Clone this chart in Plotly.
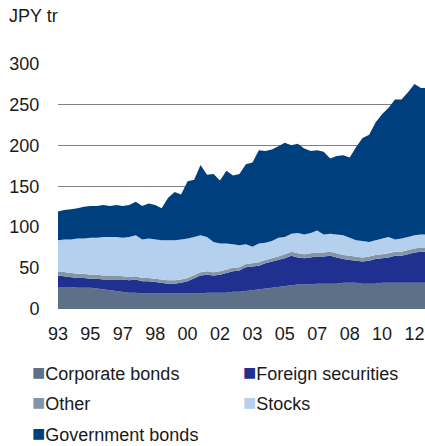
import plotly.graph_objects as go
import pandas as pd

# Japanese banks' securities holdings, JPY trillion (every 4 months)
dates = pd.date_range("1993-11-01", periods=58, freq="4MS")

corporate_bonds = [27, 27, 27, 26, 26, 26, 25, 24, 23, 22, 21, 20, 20, 19, 19, 19, 19, 19, 19, 19,
                   19, 19, 19, 20, 20, 20, 20, 21, 21, 22, 23, 24, 25, 26, 27, 28, 29, 30, 30, 30,
                   31, 31, 31, 31, 32, 32, 32, 31, 31, 31, 32, 32, 32, 32, 32, 32, 32, 32]
foreign_securities = [14, 13, 12, 12, 12, 11, 12, 12, 13, 14, 15, 15, 16, 15, 15, 14, 13, 12, 12, 13,
                      15, 19, 22, 22, 21, 22, 24, 25, 26, 29, 29, 29, 31, 32, 33, 34, 36, 33, 32, 33,
                      33, 33, 34, 32, 29, 28, 27, 27, 28, 30, 30, 31, 33, 33, 35, 37, 38, 38]
other = [5, 5, 5, 5, 5, 5, 5, 5, 5, 5, 4, 4, 4, 4, 4, 4, 4, 4, 4, 4,
         4, 4, 4, 4, 4, 4, 4, 4, 4, 4, 4, 4, 4, 4, 4, 5, 5, 5, 5, 5,
         5, 5, 5, 5, 5, 5, 5, 5, 5, 5, 5, 5, 5, 5, 5, 5, 5, 5]
stocks = [38, 40, 41, 43, 43, 45, 45, 47, 47, 47, 47, 49, 50, 47, 48, 48, 48, 49, 49, 49,
          48, 46, 45, 42, 37, 34, 32, 29, 27, 24, 20, 23, 21, 21, 23, 21, 22, 25, 24, 25,
          27, 22, 22, 23, 24, 22, 20, 20, 18, 18, 19, 20, 15, 16, 16, 16, 16, 16]
government_bonds = [35, 36, 37, 37, 39, 39, 39, 39, 38, 39, 39, 39, 41, 41, 43, 42, 39, 52, 59, 55,
                    70, 70, 86, 76, 83, 77, 89, 84, 87, 98, 103, 114, 112, 112, 112, 115, 108, 109, 105, 100,
                    98, 101, 92, 96, 98, 98, 114, 126, 131, 144, 152, 158, 171, 170, 177, 185, 179, 179]

series = [
    ("Corporate bonds", corporate_bonds, "#5e7087"),
    ("Foreign securities", foreign_securities, "#1f3091"),
    ("Other", other, "#8595a8"),
    ("Stocks", stocks, "#b4d0ec"),
    ("Government bonds", government_bonds, "#003f7d"),
]

FONT = "Liberation Sans, Arial, sans-serif"
TXT = "#1a1a1a"

fig = go.Figure()
for name, vals, col in series:
    fig.add_trace(go.Scatter(
        x=dates, y=vals, name=name, mode="lines",
        stackgroup="one", line=dict(width=0, color=col),
        fillcolor=col, showlegend=False,
    ))

fig.update_layout(
    width=425, height=446,
    margin=dict(l=58, r=0, t=63, b=137, autoexpand=False),
    plot_bgcolor="white", paper_bgcolor="white",
    font=dict(family=FONT, size=18, color=TXT),
    xaxis=dict(
        range=["1993-11-01", "2012-09-15"],
        tick0="1993-11-01", dtick="M20", tickformat="%y",
        showgrid=False, zeroline=False, showline=False, automargin=False,
        ticks="outside", ticklen=0, ticklabelstandoff=8,
    ),
    yaxis=dict(
        range=[0, 300.6], tick0=0, dtick=50,
        showgrid=True, gridcolor="#808080", gridwidth=1,
        zeroline=False, showline=False, automargin=False,
        ticks="outside", ticklen=0, ticklabelstandoff=14,
    ),
)

fig.add_annotation(text="JPY tr", xref="paper", yref="paper", x=-0.139, y=1.191,
                   xanchor="left", yanchor="middle", showarrow=False)

# legend drawn as text rows (two columns)
legend_pos = [
    ("Corporate bonds", "#5e7087", -0.076, -0.258),
    ("Foreign securities", "#1f3091", 0.499, -0.258),
    ("Other", "#8595a8", -0.076, -0.380),
    ("Stocks", "#b4d0ec", 0.499, -0.380),
    ("Government bonds", "#003f7d", -0.076, -0.508),
]
for name, col, lx, ly in legend_pos:
    fig.add_annotation(
        text=f'<span style="color:{col};font-size:22px">■</span>{name}',
        xref="paper", yref="paper", x=lx, y=ly,
        xanchor="left", yanchor="middle", showarrow=False,
    )

fig.write_html("out.html", config={"displayModeBar": False},
               post_script="document.body.style.margin='0';")
